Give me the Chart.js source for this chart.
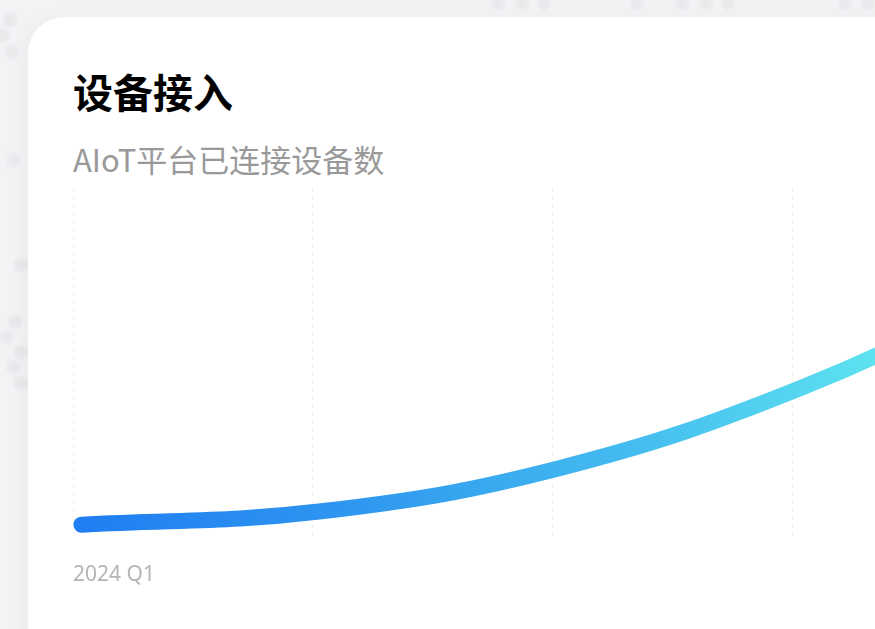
<!DOCTYPE html>
<html lang="zh-CN">
<head>
<meta charset="UTF-8">
<title>设备接入</title>
<script src="https://cdn.jsdelivr.net/npm/chart.js"></script>
<style>
  html, body { margin: 0; padding: 0; width: 875px; height: 629px; overflow: hidden; background: #f2f3f5; }
  body { position: relative; font-family: "Noto Sans CJK SC", "Noto Sans", sans-serif; }
  .dots { position: absolute; left: 0; top: 0; width: 14px; height: 14px; border-radius: 50%;
          background: transparent; filter: blur(1.5px); }
  .card { position: absolute; left: 28px; top: 17px; width: 1400px; height: 1000px; background: #fff;
          border-radius: 36px; box-shadow: -6px 0 18px rgba(0,0,0,0.03); }
  h1 { position: absolute; left: 73px; top: 71px; margin: 0; font-size: 40px; line-height: 1; font-weight: 700; color: #000; }
  .sub { position: absolute; left: 73px; top: 143px; margin: 0; font-size: 31px; line-height: 1; color: #999; }
  .chart-box { position: absolute; left: 73px; top: 180px; width: 1016px; height: 408px; }
</style>
</head>
<body>
<div class="dots" style="box-shadow:
  491px -4px 0 #e9eaec, 515px -4px 0 #eaebe9, 537px -4px 0 #e9eaec, 630px -4px 0 #e9eaec,
  675px -4px 0 #e9eaec, 699px -4px 0 #eaebe9, 721px -4px 0 #ece9ea, 838px -4px 0 #e9eaec, 861px -4px 0 #e9eaec,
  3px 13px 0 #e8e9eb, -4px 28px 0 #e8e9eb, 5px 45px 0 #e9eaec, 6px 153px 0 #e9eaec,
  14px 258px 0 #e8e9eb, 8px 315px 0 #e8e9eb, 0px 330px 0 #e9eaec, 14px 345px 0 #e8e9eb,
  6px 360px 0 #e9eaec, 14px 376px 0 #e8e9eb;"></div>
<div class="card"></div>
<h1>设备接入</h1>
<p class="sub">AIoT平台已连接设备数</p>
<div class="chart-box"><canvas id="chart"></canvas></div>

<script>
  // 季度
  const quarters = ['2024 Q1', '2024 Q2', '2024 Q3', '2024 Q4', '2025 Q1'];
  // 已连接设备数（相对值，图上无纵轴刻度）
  const devices = [4.3, 8.1, 20.5, 43.2, 75];
  // 横轴标签，只显示第一个
  const tickLabels = ['2024 Q1', '', '', '', ''];
  // 网格线比数据点略靠左
  const gridShift = 0.035;

  const ctx = document.getElementById('chart').getContext('2d');

  function lineGradient(context) {
    const chart = context.chart;
    const area = chart.chartArea;
    if (!area) return '#1f7ef2';
    const x = chart.scales.x;
    const g = chart.ctx.createLinearGradient(x.getPixelForValue(0), 0, x.getPixelForValue(3.3), 0);
    g.addColorStop(0, '#1f7ef2');
    g.addColorStop(0.35, '#2f97f0');
    g.addColorStop(0.7, '#45bdef');
    g.addColorStop(1, '#5de2f0');
    return g;
  }

  new Chart(ctx, {
    type: 'line',
    data: {
      datasets: [{
        label: '已连接设备数',
        data: devices.map((v, i) => ({ x: i, y: v })),
        borderColor: lineGradient,
        borderWidth: 16,
        borderCapStyle: 'round',
        borderJoinStyle: 'round',
        tension: 0.4,
        pointRadius: 0,
        fill: false
      }]
    },
    options: {
      responsive: true,
      maintainAspectRatio: false,
      animation: false,
      layout: { padding: { top: 8, left: 0, right: 0, bottom: 0 } },
      plugins: { legend: { display: false }, tooltip: { enabled: false } },
      scales: {
        x: {
          type: 'linear',
          min: -gridShift,
          max: 4.2,
          afterBuildTicks: (scale) => {
            scale.ticks = quarters.map((q, i) => ({ value: i - gridShift }));
          },
          grid: { color: '#eeeff1', lineWidth: 1, drawTicks: true, tickLength: 23, tickColor: 'transparent' },
          border: { display: false, dash: [4, 4] },
          ticks: {
            align: 'start',
            padding: 0,
            color: '#b5b5b5',
            font: { family: 'Noto Sans', size: 21 },
            maxRotation: 0,
            autoSkip: false,
            callback: (value, index) => tickLabels[index]
          }
        },
        y: {
          display: false,
          min: 0,
          max: 100
        }
      }
    }
  });
</script>
</body>
</html>
